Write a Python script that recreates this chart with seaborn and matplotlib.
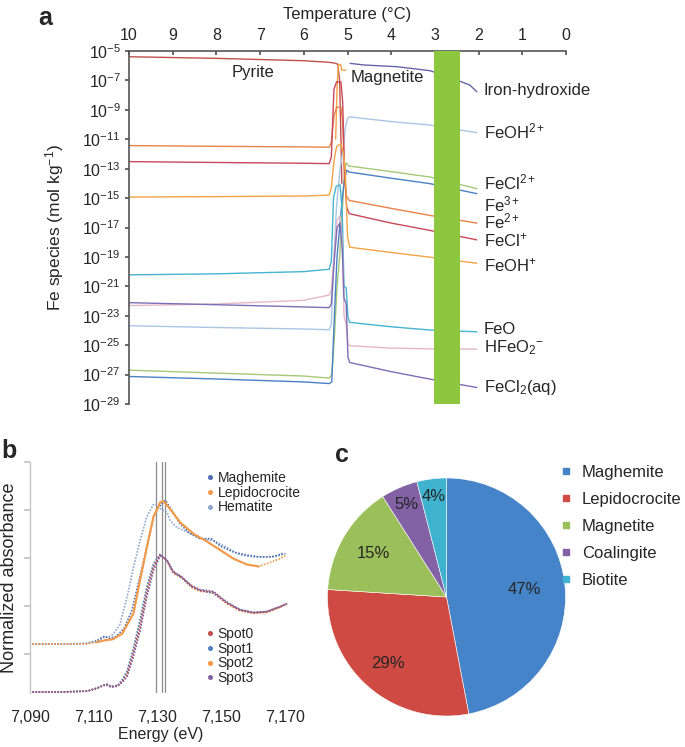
import numpy as np
import matplotlib
matplotlib.use("Agg")
import matplotlib.pyplot as plt
import seaborn as sns
from matplotlib.lines import Line2D

# ---------------- panel a: Fe species vs temperature (log10 mol/kg) ----------------
pyrite_T = [10, 8, 6, 5.42, 5.30, 5.22, 5.18, 5.15, 5.13]
pyrite_log = [-5.39, -5.5, -5.66, -5.77, -5.82, -5.9, -7.0, -11.0, -14.0]

magnetite_T = [5.27, 5.24, 5.21, 5.16, 5.13, 5.04]
magnetite_log = [-11.0, -7.5, -5.95, -5.9, -6.3, -6.3]

ironhyd_T = [4.94, 4.63, 3.86, 3.11, 2.59, 2.20, 2.04]
ironhyd_log = [-5.84, -5.95, -6.07, -6.34, -6.86, -7.32, -7.77]

feoh2p_T = [10, 8, 6, 5.42, 5.37, 5.31, 5.25, 5.17, 5.09, 5.05, 5.0, 4.95, 4.0, 3.11, 2.04]
feoh2p_log = [-23.68, -23.8, -23.9, -23.95, -23.6, -19.0, -15.5, -13.0, -11.5, -10.2, -9.6, -9.48, -9.8, -10.04, -10.55]

fecl2p_T = [10, 8, 6, 5.42, 5.36, 5.30, 5.24, 5.18, 5.12, 5.07, 5.03, 4.97, 4.0, 3.11, 2.04]
fecl2p_log = [-26.7, -26.9, -27.1, -27.24, -27.0, -24.5, -21.0, -19.0, -16.0, -13.2, -12.6, -12.82, -13.2, -13.57, -14.36]

fe3_T = [10, 8, 6, 5.42, 5.36, 5.30, 5.24, 5.18, 5.12, 5.07, 5.02, 4.96, 4.0, 3.11, 2.04]
fe3_log = [-27.13, -27.3, -27.5, -27.61, -27.5, -23.0, -19.0, -17.0, -15.0, -13.8, -13.1, -13.23, -13.65, -14.02, -14.7]

fe2_T = [10, 8, 6, 5.42, 5.37, 5.31, 5.25, 5.15, 5.11, 5.07, 5.02, 4.96, 4.0, 3.11, 2.04]
fe2_log = [-11.43, -11.48, -11.52, -11.54, -11.2, -9.4, -8.85, -8.8, -9.8, -13.5, -14.9, -15.16, -15.7, -16.18, -16.7]

fecl_T = [10, 8, 6, 5.42, 5.37, 5.31, 5.25, 5.15, 5.11, 5.07, 5.02, 4.96, 4.0, 3.11, 2.04]
fecl_log = [-12.52, -12.58, -12.63, -12.66, -12.2, -7.6, -7.1, -7.1, -8.5, -13.0, -15.6, -16.06, -16.7, -17.2, -17.84]

feoh_T = [10, 8, 6, 5.42, 5.37, 5.31, 5.25, 5.15, 5.09, 5.05, 5.0, 4.95, 4.0, 3.11, 2.04]
feoh_log = [-14.93, -14.9, -14.86, -14.8, -14.3, -12.5, -11.5, -11.3, -12.0, -13.2, -17.6, -18.34, -18.7, -19.02, -19.43]

feo_T = [10, 8, 6, 5.42, 5.37, 5.32, 5.26, 5.17, 5.12, 5.08, 5.03, 4.99, 4.95, 4.0, 3.11, 2.04]
feo_log = [-20.22, -20.15, -20.0, -19.84, -19.3, -15.0, -14.2, -14.1, -16.0, -21.0, -21.1, -23.1, -23.45, -23.75, -23.97, -24.09]

hfeo2_T = [10, 8, 6, 5.42, 5.37, 5.31, 5.24, 5.17, 5.12, 5.08, 5.03, 4.99, 4.95, 4.0, 3.11, 2.04]
hfeo2_log = [-22.31, -22.2, -21.95, -21.59, -21.3, -19.0, -16.5, -16.2, -18.0, -23.0, -23.6, -24.9, -25.04, -25.2, -25.25, -25.27]

fecl2_T = [10, 8, 6, 5.42, 5.37, 5.31, 5.24, 5.17, 5.12, 5.08, 5.03, 4.99, 4.95, 4.0, 3.11, 2.04]
fecl2_log = [-22.11, -22.25, -22.4, -22.45, -22.2, -19.5, -17.0, -16.7, -18.5, -21.8, -22.2, -25.8, -26.18, -26.8, -27.31, -27.88]

temp_ticks = [10, 9, 8, 7, 6, 5, 4, 3, 2, 1, 0]
y_exponents = [-5, -7, -9, -11, -13, -15, -17, -19, -21, -23, -25, -27, -29]
band_T = (2.43, 3.02)

# ---------------- panel b: Fe K-edge XANES ----------------
spot_E = [7090, 7100, 7108, 7111, 7113, 7114, 7115.5, 7117.5, 7119, 7120.5, 7122.5, 7124.6, 7126.7,
          7128.8, 7130.9, 7133, 7135, 7137.7, 7140.8, 7143.4, 7147.6, 7151.8, 7156, 7160.2, 7164.4, 7168.5, 7170.6]
spot0 = [0.0, 0.0, 0.01, 0.04, 0.07, 0.08, 0.055, 0.065, 0.11, 0.18, 0.40, 0.68, 1.03,
         1.30, 1.43, 1.375, 1.25, 1.20, 1.10, 1.06, 1.04, 0.93, 0.85, 0.825, 0.835, 0.89, 0.92]
spot1 = [0.0, 0.0, 0.01, 0.04, 0.07, 0.085, 0.06, 0.07, 0.13, 0.22, 0.46, 0.76, 1.10,
         1.34, 1.44, 1.37, 1.25, 1.19, 1.10, 1.06, 1.03, 0.93, 0.86, 0.83, 0.84, 0.89, 0.92]
spot2 = [0.0, 0.0, 0.01, 0.04, 0.07, 0.08, 0.055, 0.065, 0.12, 0.20, 0.43, 0.72, 1.07,
         1.32, 1.43, 1.37, 1.24, 1.19, 1.09, 1.05, 1.04, 0.92, 0.85, 0.82, 0.83, 0.88, 0.92]
spot3 = [0.0, 0.0, 0.01, 0.04, 0.065, 0.075, 0.05, 0.06, 0.10, 0.16, 0.37, 0.64, 0.99,
         1.27, 1.42, 1.38, 1.26, 1.20, 1.11, 1.07, 1.05, 0.94, 0.86, 0.83, 0.84, 0.89, 0.92]

lepido_E = [7090, 7100, 7108, 7111, 7113.5, 7116, 7119, 7122.5, 7124.6, 7126.7, 7128.8, 7130.9, 7132,
            7134, 7137.2, 7141.4, 7145.6, 7149.8, 7154, 7158.2, 7161.9, 7164.4, 7168.5, 7170.6]
lepido = [0.5, 0.5, 0.505, 0.52, 0.54, 0.55, 0.61, 0.82, 1.17, 1.51, 1.83, 1.98, 1.99,
          1.91, 1.77, 1.65, 1.57, 1.48, 1.39, 1.33, 1.31, 1.34, 1.39, 1.43]

maghem_E = [7090, 7100, 7108, 7111, 7113.5, 7115, 7117, 7119.5, 7122, 7124.5, 7127, 7129, 7130.5,
            7132.5, 7134.5, 7137, 7140, 7143.5, 7147, 7150, 7154, 7158, 7162, 7166, 7170]
maghem = [0.5, 0.5, 0.505, 0.53, 0.58, 0.56, 0.58, 0.66, 0.85, 1.20, 1.55, 1.85, 1.93,
          2.0, 1.90, 1.76, 1.66, 1.60, 1.60, 1.52, 1.46, 1.43, 1.41, 1.41, 1.45]

hemat_E = [7090, 7100, 7108, 7111, 7113, 7114.5, 7116, 7118.2, 7120.5, 7122.5, 7124.6, 7126.7, 7128.8,
           7129.9, 7131.4, 7133, 7134, 7136.1, 7139.3, 7143.4, 7147.6, 7151.8, 7156, 7160, 7164, 7168, 7170.6]
hemat = [0.5, 0.5, 0.51, 0.54, 0.58, 0.57, 0.60, 0.70, 0.99, 1.30, 1.58, 1.83, 1.96,
         1.95, 1.90, 1.88, 1.79, 1.72, 1.67, 1.60, 1.58, 1.51, 1.43, 1.41, 1.41, 1.42, 1.45]

edge_lines = [7129.5, 7131.5, 7132.5]
energy_ticks = [7090, 7110, 7130, 7150, 7170]

# ---------------- panel c: phase fractions ----------------
phases = ["Maghemite", "Lepidocrocite", "Magnetite", "Coalingite", "Biotite"]
fractions = [47, 29, 15, 5, 4]
phase_colors = ["#4684c9", "#cf4a42", "#9bbf5a", "#8262a5", "#3fb2cf"]

sns.set_theme(style="white")
plt.rcParams["font.family"] = ["Liberation Sans", "DejaVu Sans"]
plt.rcParams["mathtext.fontset"] = "custom"
plt.rcParams["mathtext.rm"] = "Liberation Sans"
plt.rcParams["mathtext.it"] = "Liberation Sans:italic"
plt.rcParams["mathtext.bf"] = "Liberation Sans:bold"

fig = plt.figure(figsize=(6.85, 7.47), dpi=100)
W, H = 685, 747


def px_axes(x0, y0, x1, y1):
    return fig.add_axes([x0 / W, 1 - y1 / H, (x1 - x0) / W, (y1 - y0) / H])


# ---------- a ----------
ax = px_axes(129, 51, 566, 404)
series_a = [
    (pyrite_T, pyrite_log, "#c0504d"),
    (magnetite_T, magnetite_log, "#f5a243"),
    (ironhyd_T, ironhyd_log, "#6566a6"),
    (feoh2p_T, feoh2p_log, "#a9c6e4"),
    (fecl2p_T, fecl2p_log, "#a6c877"),
    (fe3_T, fe3_log, "#4a80c4"),
    (fe2_T, fe2_log, "#e9824a"),
    (fecl_T, fecl_log, "#c9485a"),
    (feoh_T, feoh_log, "#f2a445"),
    (feo_T, feo_log, "#45b3d1"),
    (hfeo2_T, hfeo2_log, "#e3b9c5"),
    (fecl2_T, fecl2_log, "#7f6db5"),
]
for T, lg, c in series_a:
    sns.lineplot(x=T, y=10.0 ** np.array(lg), ax=ax, color=c, lw=1.0, sort=False, estimator=None)

ax.axvspan(*band_T, color="#8dc63f", lw=0, zorder=5)
ax.set_yscale("log")
ax.set_xlim(10, 0)
ax.set_ylim(1e-29, 1e-5)
ax.set_yticks([10.0 ** e for e in y_exponents])
ax.set_yticklabels([f"$10^{{{e}}}$" for e in y_exponents])
ax.yaxis.set_minor_locator(plt.NullLocator())
ax.set_xticks(temp_ticks)
ax.set_xticklabels([str(t) for t in temp_ticks])
ax.xaxis.tick_top()
ax.xaxis.set_label_position("top")
for s in ["bottom", "right"]:
    ax.spines[s].set_visible(False)
for s in ["top", "left"]:
    ax.spines[s].set_color("#555555")
    ax.spines[s].set_linewidth(1.2)
ax.tick_params(axis="x", which="major", top=True, bottom=False, direction="in", length=3,
               color="#555555", labelsize=11.5, pad=6)
ax.tick_params(axis="y", which="major", left=True, direction="out", length=3,
               color="#555555", labelsize=11.5, pad=3)
ax.set_xlabel("Temperature (°C)", fontsize=12, labelpad=6)
ax.set_ylabel("Fe species (mol kg$^{-1}$)", fontsize=12.5, labelpad=12)
ax.grid(False)

lab_T = 1.88
species_labels = [
    ("Iron-hydroxide", -7.66), ("FeOH$^{2+}$", -10.45), ("FeCl$^{2+}$", -13.95),
    ("Fe$^{3+}$", -15.45), ("Fe$^{2+}$", -16.6), ("FeCl$^{+}$", -17.85), ("FeOH$^{+}$", -19.55),
    ("FeO", -23.95), ("HFeO$_2$$^{-}$", -25.15), ("FeCl$_2$(aq)", -27.9),
]
for txt, lv in species_labels:
    ax.text(lab_T, 10.0 ** lv, txt, fontsize=12, ha="left", va="center", clip_on=False)
ax.text(7.16, 10.0 ** -6.43, "Pyrite", fontsize=12, ha="center", va="center")
ax.text(4.92, 10.0 ** -6.77, "Magnetite", fontsize=12, ha="left", va="center")
fig.text(45 / W, 1 - 18 / H, "a", fontsize=18, fontweight="bold", ha="center", va="center")

# ---------- b ----------
axb = px_axes(30, 462, 291, 693)
dot = dict(lw=1.4, ls=(0, (0.01, 1.6)), dash_capstyle="round", sort=False, estimator=None)
std_colors = {"Maghemite": "#4f6fb0", "Lepidocrocite": "#f29a4a", "Hematite": "#8ea7d2"}
spot_colors = ["#c0504d", "#4f81bd", "#f79646", "#8064a2"]

sns.lineplot(x=hemat_E, y=hemat, ax=axb, color=std_colors["Hematite"], **dot)
sns.lineplot(x=maghem_E, y=maghem, ax=axb, color=std_colors["Maghemite"], **dot)
sns.lineplot(x=lepido_E, y=lepido, ax=axb, color=std_colors["Lepidocrocite"], **dot)
sns.lineplot(x=lepido_E[3:21], y=lepido[3:21], ax=axb, color=std_colors["Lepidocrocite"],
             lw=1.5, sort=False, estimator=None)
for v, c in zip([spot2, spot1, spot0, spot3], [spot_colors[2], spot_colors[1], spot_colors[0], spot_colors[3]]):
    sns.lineplot(x=spot_E, y=v, ax=axb, color=c, **dot)

for e in edge_lines:
    axb.axvline(e, color="#8c8c8c", lw=0.9, zorder=1)

axb.set_xlim(7090, 7172)
axb.set_ylim(-0.01, 2.4)
axb.set_yticks([0.4, 0.9, 1.4, 1.9, 2.4])
axb.set_yticklabels([])
axb.set_xticks(energy_ticks)
axb.set_xticklabels([f"{e:,}" for e in energy_ticks])
for s in ["top", "right", "bottom"]:
    axb.spines[s].set_visible(False)
axb.spines["left"].set_color("#c4c4c4")
axb.spines["left"].set_linewidth(1.0)
axb.tick_params(axis="y", left=True, direction="out", length=4, color="#c4c4c4")
axb.tick_params(axis="x", length=0, labelsize=11.5, pad=12)
axb.set_xlabel("Energy (eV)", fontsize=11.5, labelpad=2)
axb.set_ylabel("Normalized absorbance", fontsize=13)
axb.yaxis.set_label_coords(-0.045, 0.5)
axb.grid(False)

std_handles = [Line2D([], [], ls="", marker="o", ms=2.6, color=std_colors[k], label=k)
               for k in ["Maghemite", "Lepidocrocite", "Hematite"]]
spot_handles = [Line2D([], [], ls="", marker="o", ms=2.6, color=c, label=f"Spot{i}")
                for i, c in enumerate(spot_colors)]
leg_kw = dict(frameon=False, fontsize=10, handlelength=0.4, handletextpad=0.35, labelspacing=0.05,
              borderpad=0, borderaxespad=0, loc="upper left", bbox_transform=fig.transFigure)
leg1 = axb.legend(handles=std_handles, bbox_to_anchor=(207 / W, 1 - 471 / H), **leg_kw)
axb.add_artist(leg1)
axb.legend(handles=spot_handles, bbox_to_anchor=(207 / W, 1 - 627 / H), **leg_kw)
fig.text(9 / W, 1 - 451 / H, "b", fontsize=18, fontweight="bold", ha="center", va="center")

# ---------- c ----------
axc = px_axes(327.5, 478, 565.5, 716)
wedges, _ = axc.pie(fractions, colors=phase_colors, startangle=90, counterclock=False,
                    wedgeprops=dict(edgecolor="white", linewidth=0.4))
axc.set_xlim(-1, 1)
axc.set_ylim(-1, 1)
label_r = [0.66, 0.75, 0.71, 0.85, 0.85]
for w, f, r in zip(wedges, fractions, label_r):
    ang = np.deg2rad((w.theta1 + w.theta2) / 2)
    axc.text(r * np.cos(ang), r * np.sin(ang), f"{f}%", fontsize=12, ha="center", va="center")
pie_handles = [Line2D([], [], ls="", marker="s", ms=4.5, color=c, label=p)
               for p, c in zip(phases, phase_colors)]
fig.legend(handles=pie_handles, loc="upper left", bbox_to_anchor=(560 / W, 1 - 465 / H),
           frameon=False, fontsize=12, handlelength=0.7, handletextpad=0.6, labelspacing=0.72,
           borderpad=0, borderaxespad=0)
fig.text(342 / W, 1 - 455 / H, "c", fontsize=18, fontweight="bold", ha="center", va="center")

fig.savefig("out.png", dpi=100)
